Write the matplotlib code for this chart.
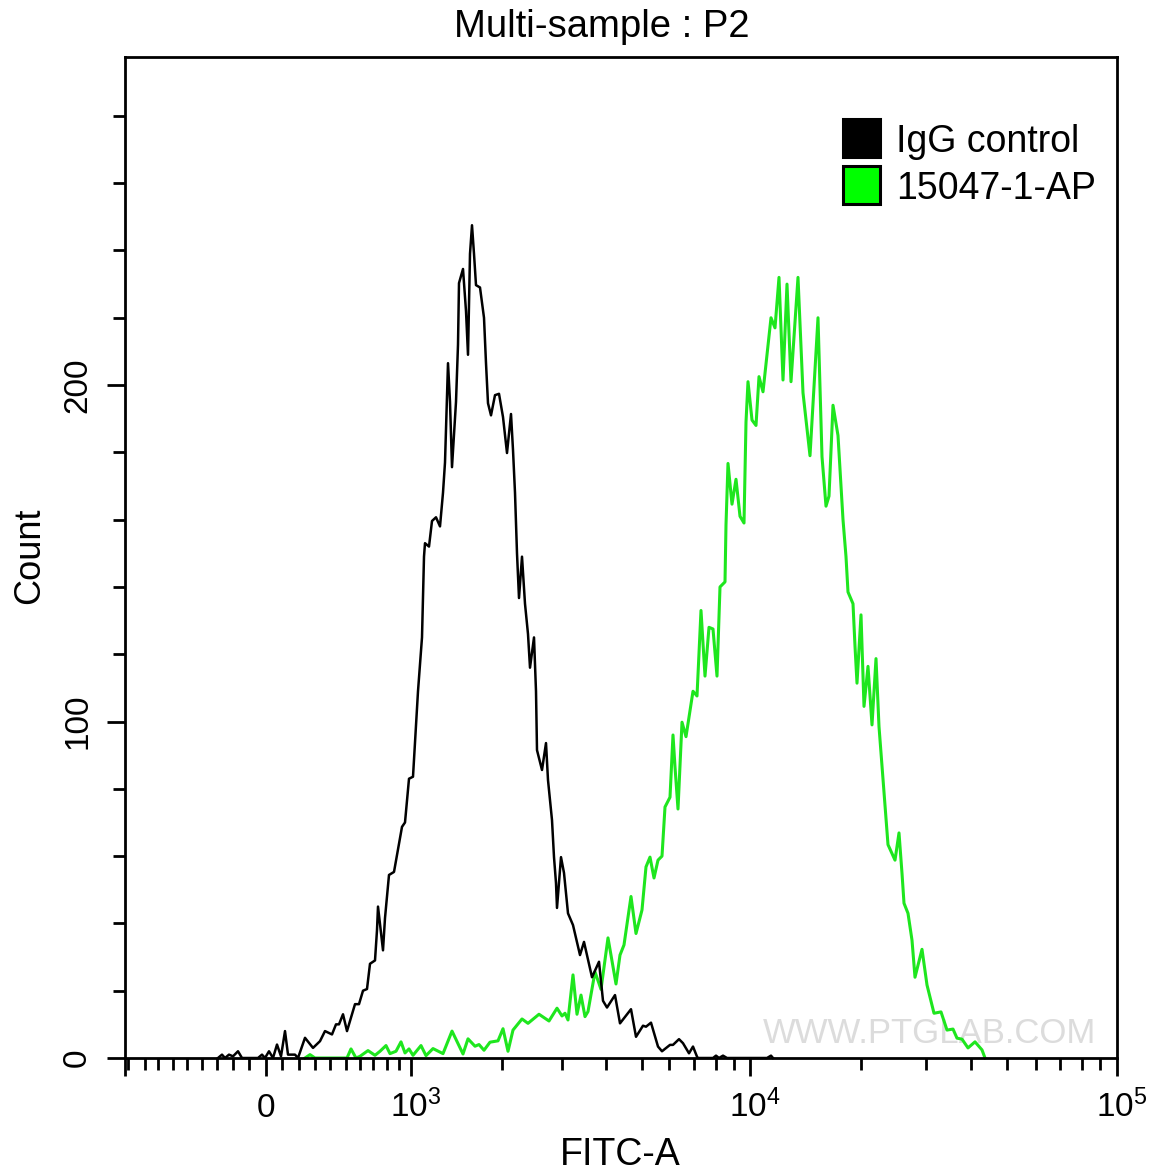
import matplotlib
matplotlib.use("Agg")
import matplotlib.pyplot as plt
from matplotlib.patches import Rectangle
from matplotlib.transforms import ScaledTranslation

plt.rcParams['font.family'] = ['Liberation Sans', 'DejaVu Sans']
plt.rcParams['mathtext.fontset'] = 'custom'
plt.rcParams['mathtext.rm'] = 'Liberation Sans'
plt.rcParams['mathtext.default'] = 'rm'

# Histogram values: x in display channels of the biexponential FITC-A axis, y in counts
black_x = [218,222,225,229,233,238,242,258,262,265,269,273,277,281,285,288,292,295,298,305,313,320,325,332,336,339,343,347,352,355,359,363,367,370,375,377,378,383,385,389,394,402,405,409,413,418,422,424,425,429,432,436,440,443,445,448,450,452,456,458,459,463,466,468,470,472,474,476,480,484,486,488,491,495,499,503,507,511,513,515,517,519,522,525,528,530,534,536,537,542,546,548,552,554,556,557,561,564,568,573,580,584,592,599,603,607,615,620,631,636,643,646,651,658,662,670,673,679,683,689,693,697,698,713,716,719,723,727,767,771,773]
black_y = [0,1,0,1,0.5,2,0,0,1,0,2,0,4,0.5,8,1,1,1,0,6,3,5,8,7,10,10,13,8,13,16,16,20,20.5,28,29,38,45,32,41.6,54.4,55.3,68.7,70,83,83.6,109,125,149,153,152,159.6,160.7,158,168,177,206.5,195,175.6,195,212,230.3,234.5,222,209,239,247.5,239,229.7,229,220,206.5,194.6,191,197,197.4,190.5,179.8,191.4,180.7,168,150,136.7,149,135,126,116,125,109,91.5,85.6,93.6,82.6,70.7,59.7,52,44.6,59.7,55,43,39.5,30.6,34.5,24,28.6,17,15,18.7,10.3,14.5,6.3,9.6,9.3,10.5,3.4,2,3.9,3.9,5.6,4.4,1.4,3.4,0.4,0,0,0.7,0,0.7,0,0,0.7,0]
green_x = [305,310,315,347,351,356,360,368,375,380,386,390,396,401,405,409,413,421,426,433,443,452,463,468,475,479,484,490,498,503,508,513,522,528,539,549,557,562,565,568,573,577,581,585,588,595,601,608,616,620,624,631,636,642,646,650,654,658,662,665,670,673,675,678,682,686,693,697,701,705,709,713,717,720,725,726,728,732,736,740,744,746,748,752,756,759,763,771,775,779,783,787,791,798,803,810,818,822,826,829,833,838,843,846,848,853,855,857,861,864,868,872,876,879,882,885,888,895,899,902,904,908,912,915,922,927,934,941,947,953,957,962,968,975,982,985]
green_y = [0,1,0,0,2.7,0,0.5,2.2,0.8,2,3.7,1.3,2,4.8,1.5,2.7,0.8,3.7,0.7,2.8,1.3,8,1.2,5.7,3.5,4,2.3,4.7,5.1,8.7,2,8.3,11.6,10.3,13,11,14.8,12.5,13.3,11.3,24.7,13,18.7,12.3,13.8,25.6,20.4,35.7,22,30.6,33.6,48,37,44,56.8,59.7,53.5,58.8,60,74.6,77.5,96,86.5,74,99.8,95.5,109,107.6,133,113.5,128,127.5,113.5,140,141.5,158.5,176.7,164.6,172,161,159,189,201,189.6,188,202.5,198,220,217,232,201.5,230,201,232,197.7,179,220,178.7,164,167,194,185,160,149,138.5,135,122.4,111.4,131.7,104.5,116.4,99,118.7,98.5,86.8,74.9,63.4,58.8,66.9,54.9,46,43,35,24,32.3,21.7,13.3,13.7,8.3,8.6,5.9,5.6,3,4.8,2.4,0]

# Axis ticks
x_major = [266, 411, 750, 1117]
x_major_labels = ['0', r'$10^{3}$', r'$10^{4}$', r'$10^{5}$']
x_edge = [125]
x_minor = [128,145,158,173,187,202,217,233,249,282,299,315,330,346,360,373,387,399,502,562,606,642,669,694,716,734,861,926,971,1007,1036,1060,1082,1100]
y_major = [0, 100, 200]
y_minor = [20,40,60,80,120,140,160,180,220,240,260,280]
legend_names = ['IgG control', '15047-1-AP']
legend_colors = ['#000000', '#00ff00']

W, H = 1165, 1175
fig = plt.figure(figsize=(W/100, H/100), dpi=100, facecolor='white')
ax = fig.add_axes([125/W, 1-1058/H, 992/W, 1001/H])
ax.set_xlim(125, 1117)
ax.set_ylim(0, 297.5)

ax.text(930, 0.0245, 'WWW.PTGLAB.COM', transform=ax.get_xaxis_transform(), ha='center',
        va='center', fontsize=25, color='#dcdcdc', zorder=1)
ax.plot(green_x, green_y, color='#1ee61e', lw=2.2, zorder=3, clip_on=False, solid_joinstyle='round')
ax.plot(black_x, black_y, color='#000000', lw=1.8, zorder=4, clip_on=False, solid_joinstyle='round')

for s in ax.spines.values():
    s.set_linewidth(2.0)
    s.set_zorder(5)

ax.set_xticks(x_edge + x_major)
ax.set_xticklabels([''] + x_major_labels, fontsize=24, va='baseline')
ax.set_xticks(x_minor, minor=True)
ax.set_yticks(y_major)
ax.set_yticklabels([str(v) for v in y_major], fontsize=24, rotation=90, va='center')
ax.set_yticks(y_minor, minor=True)
ax.tick_params(axis='x', which='major', length=13, width=2.0, pad=29.5)
ax.tick_params(axis='x', which='minor', length=8.5, width=2.0)
ax.tick_params(axis='y', which='major', length=13, width=2.0, pad=10)
ax.tick_params(axis='y', which='minor', length=8.5, width=2.0)
shift = ScaledTranslation(5/100, 0, fig.dpi_scale_trans)
for lbl in ax.get_xticklabels()[2:]:
    lbl.set_transform(lbl.get_transform() + shift)

fig.text(602/W, 1-27/H, 'Multi-sample : P2', ha='center', va='center', fontsize=27.5)
fig.text(620/W, 1-1155/H, 'FITC-A', ha='center', va='center', fontsize=27)
fig.text(30/W, 1-556/H, 'Count', ha='center', va='center', rotation=90, fontsize=26)

# Legend, laid out in figure pixels
for i, (name, col) in enumerate(zip(legend_names, legend_colors)):
    top = 119 + 47*i
    fig.add_artist(Rectangle((843/W, 1-(top+38)/H), 37/W, 38/H, transform=fig.transFigure,
                             facecolor=col, edgecolor='black', lw=2.2))
    fig.text(896/W, 1-(top+33)/H, name, ha='left', va='baseline', fontsize=27)

fig.savefig('out.png', dpi=100)
